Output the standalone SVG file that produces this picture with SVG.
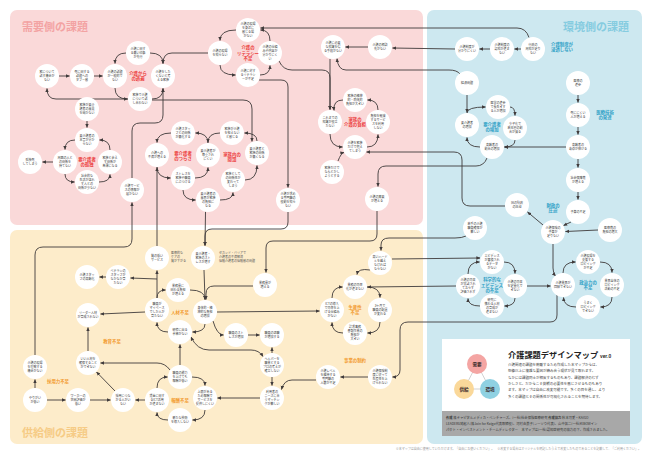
<svg xmlns="http://www.w3.org/2000/svg" width="650" height="454" viewBox="0 0 650 454">
<style>
text{font-family:"Noto Sans CJK JP","Noto Sans",sans-serif}
.nd circle{fill:#fff}
.nd text{font-size:3px;fill:#3a3a3a;text-anchor:middle}
.lbl{font-size:4.4px;font-weight:bold;text-anchor:middle}
.red{fill:#ec3c3c}.org{fill:#f29a2e}.blu{fill:#2ea0c6}
.ttl{font-size:11px;font-weight:bold}
.ann{font-size:3px;fill:#555}
#connectors path{fill:none;stroke:#403b3b;stroke-width:0.9;marker-end:url(#ah)}
#connectors path.bi{marker-start:url(#ahs)}
.leg{font-size:3.5px;fill:#444}
.band{font-size:3.3px;fill:#333}
.ci{font-size:4.6px;font-weight:bold;fill:#3a2a2a;text-anchor:middle}
</style>
<defs>
<marker id="ah" viewBox="0 0 6 6" refX="5.5" refY="3" markerWidth="4" markerHeight="4" markerUnits="userSpaceOnUse" orient="auto"><path d="M0,0.4 L6,3 L0,5.6 z" fill="#403b3b"/></marker>
<marker id="ahs" viewBox="0 0 6 6" refX="5.5" refY="3" markerWidth="4" markerHeight="4" markerUnits="userSpaceOnUse" orient="auto-start-reverse"><path d="M0,0.4 L6,3 L0,5.6 z" fill="#403b3b"/></marker>
</defs>
<rect width="650" height="454" fill="#fff"/>
<g id="panels">
<rect x="10" y="10" width="413" height="215" rx="7" fill="#fad9d9"/>
<rect x="10" y="230" width="413" height="214" rx="7" fill="#fdecca"/>
<rect x="427" y="10" width="215" height="434" rx="7" fill="#cde8f0"/>
<text class="ttl" x="22" y="31" fill="#f3a3a3">需要側の課題</text>
<text class="ttl" x="563" y="31" fill="#86cce0">環境側の課題</text>
<text class="ttl" x="22" y="437" fill="#f6cb85">供給側の課題</text>
</g>
<g id="connectors">
<path d="M59,76 L69.5,76"/>
<path d="M94,76 L102.5,76"/>
<path d="M126,53 Q115,53 115,63.5"/>
<path d="M150,53 Q163,53 163,63.5"/>
<path d="M208,53 L172,53 Q163,53 163,63.5"/>
<path d="M115,88 Q115,99 127.5,99"/>
<path d="M152,99 Q163,99 163,88.5"/>
<path d="M128,99 L56,99 Q47,99 47,88.5"/>
<path d="M152,100 L243,100 Q252,100 252,109 L252,141.5"/>
<path d="M132,178 L132,131 Q132,123 140,123 L155,123 Q163,123 163,115 L163,88.5"/>
<path d="M87,121 L87,127.5"/>
<path d="M75,140 Q65,140 65,149.5"/>
<path d="M65,174 Q65,182 74.5,182"/>
<path d="M99,182 Q110,182 110,174.5"/>
<path d="M110,150 Q110,140 99.5,140"/>
<path d="M53,162 L42.5,162"/>
<path d="M171,133 Q157,133 157,142.5"/>
<path d="M157,167 Q157,178 170.5,178"/>
<path d="M195,178 Q208,178 208,167.5"/>
<path d="M208,143 Q208,133 195.5,133"/>
<path d="M183,190 Q183,200 195.5,200"/>
<path d="M220,133 Q208,133 208,142.5"/>
<path d="M257,141 Q257,133 244.5,133"/>
<path d="M245,180 Q257,180 257,165.5"/>
<path d="M220,200 Q233,200 233,192.5"/>
<path d="M236,30 Q220,30 220,40.5"/>
<path d="M220,65 Q220,75 235.5,75"/>
<path d="M260,75 Q270,75 270,65.5"/>
<path d="M270,41 Q270,30 260.5,30"/>
<path d="M259,80 L281,80 Q288,80 288,87 L288,187.5"/>
<path d="M279,61 Q283,70 292,70 L322,70 Q330,70 330,78 L330,109.5"/>
<path d="M330,59 L330,109.5"/>
<path d="M460,74 Q457,70 449,70 L346,70 Q338,70 337,58.5"/>
<path d="M455,49 L392.5,48"/>
<path d="M368,47 L345.5,47"/>
<path d="M490,49 L479.5,49"/>
<path d="M521,49 L514.5,49"/>
<path d="M529,37.5 Q526,28 517,28 L260.5,28"/>
<path d="M343,100 Q333,100 334,110.5"/>
<path d="M330,134 Q330,147 342.5,147"/>
<path d="M367,147 Q378,147 378,134.5"/>
<path d="M378,110 Q378,100 367.5,100"/>
<path d="M338,161 Q341,153 344,152.5"/>
<path d="M505,206 L470,206 Q462,206 462,198 L462,160 Q462,152 454,152 L366.5,152"/>
<path d="M487,158 Q484,166 476,166 L386,166 Q378,166 378,174 L378,186.5"/>
<path d="M377,211 L377,234 Q377,241 370,241 L273,241 Q266,241 266,248 L266,272.5"/>
<path d="M288,212 L288,222 Q288,229 281,229 L212,229 Q205,229 205,236 L205,245.5"/>
<path d="M205.5,211.7 L205,245.5"/>
<path d="M157,246 L157,167.5"/>
<path d="M35,355 L35,255 Q35,247 43,247 L124,247 Q132,247 132,239 L132,202.5"/>
<path d="M157,298 L157,270.5"/>
<path d="M157,279 L130.5,278"/>
<path d="M106,277 L99.5,277"/>
<path d="M157,298 Q157,290 165.5,290"/>
<path d="M190,290 Q205,290 205,299.5"/>
<path d="M204,270 L205,299.5"/>
<path d="M253,286 L214,286 Q206,286 206,294 L206,299.5"/>
<path d="M205,324 Q205,332 192.5,332"/>
<path d="M168,332 Q157,332 157,322.5"/>
<path d="M145,312 L100.5,314"/>
<path d="M88,351 L88,327.5"/>
<path d="M170,370 Q165,363 157,363 L100.5,363"/>
<path d="M115,391 L96.5,372"/>
<path d="M35,388 L35,379.5"/>
<path d="M47,400 L65.5,400"/>
<path d="M90,400 L110.5,400"/>
<path d="M145,400 L135.5,400"/>
<path d="M192,377 Q205,377 205,385.5"/>
<path d="M205,410 Q205,420 192.5,420"/>
<path d="M168,420 Q157,420 157,412.5"/>
<path d="M157,388 Q157,377 167.5,377"/>
<path d="M180,365 L180,344.5"/>
<path d="M260,398 L217.5,398"/>
<path d="M316,380 L292,380 Q284,380 281.5,389.5"/>
<path d="M368,377 L340.5,377"/>
<path d="M557,295 L557,315 Q557,322 550,322 L408,322 Q400,322 400,330 L400,370 Q400,377 392.5,377"/>
<path d="M272,353 L272,347.5"/>
<path d="M272,377 L272,385.5"/>
<path d="M248,335 L259.5,335"/>
<path d="M213,321 Q217,335 223.5,335"/>
<path d="M217,312 L319.5,311"/>
<path class="bi" d="M191,337 Q197,350 209,350 L251,350 Q259,350 263,356.5"/>
<path d="M367,287 Q380,287 380,297.5"/>
<path d="M380,322 Q380,333 367.5,333"/>
<path d="M343,333 Q332,333 332,322.5"/>
<path d="M332,298 Q332,287 342.5,287"/>
<path d="M370,270 Q358,268 357,274.5"/>
<path d="M466,236 Q462,238 455,238 L389,238 Q381,238 381,245 L381,250.5"/>
<path d="M392,259 L480,258"/>
<path d="M456,286 L367.5,287"/>
<path d="M504,262 Q515,262 515,273.5"/>
<path d="M515,298 Q515,306 504.5,306"/>
<path d="M480,306 Q468,306 468,298.5"/>
<path d="M468,274 Q468,262 479.5,262"/>
<path d="M527,286 L550.5,286"/>
<path d="M563,273 Q563,262 575.5,262"/>
<path d="M600,262 Q612,262 612,272.5"/>
<path d="M612,297 Q612,307 600.5,307"/>
<path d="M576,307 Q564,307 563.5,297.5"/>
<path d="M553,244 L553,268 Q553,273 555.5,276"/>
<path d="M578,95 L578,102.5"/>
<path d="M578,127 L578,134.5"/>
<path d="M566,147 L504.5,147"/>
<path d="M578,159 L578,167.5"/>
<path d="M578,192 L578,199.5"/>
<path d="M571,222 L563.5,225.5"/>
<path d="M598,230 L565.5,231.5"/>
<path d="M543,225 L527.5,212"/>
<path d="M510,107 Q515,107 515,115.5"/>
<path d="M515,140 Q515,147 504.5,147"/>
<path d="M480,147 Q467,147 467,137.5"/>
<path d="M467,113 Q467,107 485.5,107"/>
<path d="M467,95 L467,112.5"/>
</g>
<g id="nodes">
<g id="p1" class="nd"><circle cx="47" cy="76" r="12"/><text x="47" y="73.1"><tspan x="47">家について</tspan><tspan x="47" dy="4">話す機会が</tspan><tspan x="47" dy="4">ない</tspan></text></g>
<g id="p2" class="nd"><circle cx="82" cy="76" r="12"/><text x="82" y="73.1"><tspan x="82">死に関する</tspan><tspan x="82" dy="4">話題への</tspan><tspan x="82" dy="4">タブー感</tspan></text></g>
<g id="p3" class="nd"><circle cx="115" cy="76" r="12"/><text x="115" y="73.1"><tspan x="115">介護の話題</tspan><tspan x="115" dy="4">が一般的で</tspan><tspan x="115" dy="4">ない</tspan></text></g>
<g id="p4" class="nd"><circle cx="138" cy="53" r="12"/><text x="138" y="50.1"><tspan x="138">介護に関す</tspan><tspan x="138" dy="4">る悪い印象</tspan><tspan x="138" dy="4">が先行</tspan></text></g>
<g id="p5" class="nd"><circle cx="163" cy="76" r="12"/><text x="163" y="73.1"><tspan x="163">介護をした</tspan><tspan x="163" dy="4">くないと考</tspan><tspan x="163" dy="4">える家族</tspan></text></g>
<g id="p6" class="nd"><circle cx="140" cy="99" r="12"/><text x="140" y="96.1"><tspan x="140">家族で介護</tspan><tspan x="140" dy="4">について話</tspan><tspan x="140" dy="4">し合わない</tspan></text></g>
<g id="p7" class="nd"><circle cx="87" cy="109" r="12"/><text x="87" y="106.1"><tspan x="87">家族が要介</tspan><tspan x="87" dy="4">護者の意見</tspan><tspan x="87" dy="4">を聞かない</tspan></text></g>
<g id="p8" class="nd"><circle cx="87" cy="140" r="12"/><text x="87" y="137.1"><tspan x="87">要介護者の</tspan><tspan x="87" dy="4">本音が分か</tspan><tspan x="87" dy="4">らない</tspan></text></g>
<g id="p9" class="nd"><circle cx="30" cy="162" r="12"/><text x="30" y="161.1"><tspan x="30">孤独死</tspan><tspan x="30" dy="4">してしまう</tspan></text></g>
<g id="p10" class="nd"><circle cx="65" cy="162" r="12"/><text x="65" y="159.1"><tspan x="65">周囲の人と</tspan><tspan x="65" dy="4">の関係を</tspan><tspan x="65" dy="4">持てない</tspan></text></g>
<g id="p11" class="nd"><circle cx="110" cy="162" r="12"/><text x="110" y="159.1"><tspan x="110">家族と会え</tspan><tspan x="110" dy="4">ず関係が</tspan><tspan x="110" dy="4">希薄になる</tspan></text></g>
<g id="p12" class="nd"><circle cx="87" cy="182" r="12"/><text x="87" y="177.1"><tspan x="87">社会的な</tspan><tspan x="87" dy="4">生活が送れ</tspan><tspan x="87" dy="4">ず人との</tspan><tspan x="87" dy="4">関係が少ない</tspan></text></g>
<g id="p13" class="nd"><circle cx="132" cy="190" r="12"/><text x="132" y="187.1"><tspan x="132">介護サービ</tspan><tspan x="132" dy="4">スの情報が</tspan><tspan x="132" dy="4">届かない</tspan></text></g>
<g id="p14" class="nd"><circle cx="183" cy="133" r="12"/><text x="183" y="130.1"><tspan x="183">介護スタッ</tspan><tspan x="183" dy="4">フとの関係</tspan><tspan x="183" dy="4">が悪化する</tspan></text></g>
<g id="p15" class="nd"><circle cx="157" cy="155" r="12"/><text x="157" y="154.1"><tspan x="157">介護への</tspan><tspan x="157" dy="4">不満が増える</tspan></text></g>
<g id="p16" class="nd"><circle cx="208" cy="155" r="12"/><text x="208" y="152.1"><tspan x="208">要介護者が</tspan><tspan x="208" dy="4">尊重され</tspan><tspan x="208" dy="4">にくい</tspan></text></g>
<g id="p17" class="nd"><circle cx="183" cy="178" r="12"/><text x="183" y="175.1"><tspan x="183">ストレスを</tspan><tspan x="183" dy="4">家族や職員</tspan><tspan x="183" dy="4">にぶつける</tspan></text></g>
<g id="p18" class="nd"><circle cx="208" cy="200" r="12"/><text x="208" y="195.1"><tspan x="208">要介護者の</tspan><tspan x="208" dy="4">意思が家族</tspan><tspan x="208" dy="4">の負担に</tspan><tspan x="208" dy="4">なる</tspan></text></g>
<g id="f1" class="nd"><circle cx="232" cy="133" r="12"/><text x="232" y="130.1"><tspan x="232">家族が介護</tspan><tspan x="232" dy="4">を担えない</tspan><tspan x="232" dy="4">と感じる</tspan></text></g>
<g id="f2" class="nd"><circle cx="257" cy="153" r="12"/><text x="257" y="150.1"><tspan x="257">要介護者と</tspan><tspan x="257" dy="4">家族の関係</tspan><tspan x="257" dy="4">が悪くなる</tspan></text></g>
<g id="f3" class="nd"><circle cx="233" cy="180" r="12"/><text x="233" y="175.1"><tspan x="233">家族として</tspan><tspan x="233" dy="4">の関係性が</tspan><tspan x="233" dy="4">変わって</tspan><tspan x="233" dy="4">しまう</tspan></text></g>
<g id="l1" class="nd"><circle cx="248" cy="30" r="12"/><text x="248" y="25.1"><tspan x="248">介護の現場</tspan><tspan x="248" dy="4">を身近に</tspan><tspan x="248" dy="4">感じる場</tspan><tspan x="248" dy="4">がない</tspan></text></g>
<g id="l2" class="nd"><circle cx="220" cy="53" r="12"/><text x="220" y="52.1"><tspan x="220">介護の現場</tspan><tspan x="220" dy="4">を知らない</tspan></text></g>
<g id="l3" class="nd"><circle cx="270" cy="53" r="12"/><text x="270" y="48.1"><tspan x="270">介護の仕組</tspan><tspan x="270" dy="4">みや内容が</tspan><tspan x="270" dy="4">分かりにく</tspan><tspan x="270" dy="4">い</tspan></text></g>
<g id="l4" class="nd"><circle cx="248" cy="75" r="12"/><text x="248" y="72.1"><tspan x="248">介護に対す</tspan><tspan x="248" dy="4">るリテラシ</tspan><tspan x="248" dy="4">ーが不足</tspan></text></g>
<g id="k1" class="nd"><circle cx="288" cy="200" r="12"/><text x="288" y="195.1"><tspan x="288">介護が求め</tspan><tspan x="288" dy="4">る専門職の</tspan><tspan x="288" dy="4">役割を知ら</tspan><tspan x="288" dy="4">ない</tspan></text></g>
<g id="t1" class="nd"><circle cx="333" cy="47" r="12"/><text x="333" y="44.1"><tspan x="333">介護に必要</tspan><tspan x="333" dy="4">な知識を得</tspan><tspan x="333" dy="4">る手段がない</tspan></text></g>
<g id="t2" class="nd"><circle cx="380" cy="47" r="12"/><text x="380" y="46.1"><tspan x="380">介護の相談</tspan><tspan x="380" dy="4">先がない</tspan></text></g>
<g id="m1" class="nd"><circle cx="355" cy="100" r="12"/><text x="355" y="97.1"><tspan x="355">家族の精神</tspan><tspan x="355" dy="4">的・肉体的</tspan><tspan x="355" dy="4">負担が大きい</tspan></text></g>
<g id="m2" class="nd"><circle cx="330" cy="122" r="12"/><text x="330" y="119.1"><tspan x="330">これまでの</tspan><tspan x="330" dy="4">知識が役立</tspan><tspan x="330" dy="4">たない</tspan></text></g>
<g id="m3" class="nd"><circle cx="378" cy="122" r="12"/><text x="378" y="117.1"><tspan x="378">負担を軽減</tspan><tspan x="378" dy="4">するサービ</tspan><tspan x="378" dy="4">スを利用</tspan><tspan x="378" dy="4">しない</tspan></text></g>
<g id="m4" class="nd"><circle cx="355" cy="147" r="12"/><text x="355" y="144.1"><tspan x="355">介護を家族</tspan><tspan x="355" dy="4">だけで抱え</tspan><tspan x="355" dy="4">てしまう</tspan></text></g>
<g id="m5" class="nd"><circle cx="332" cy="172" r="12"/><text x="332" y="169.1"><tspan x="332">家族だけで</tspan><tspan x="332" dy="4">なんとかし</tspan><tspan x="332" dy="4">ようとする</tspan></text></g>
<g id="d0" class="nd"><circle cx="377" cy="199" r="12"/><text x="377" y="198.1"><tspan x="377">介護の需要</tspan><tspan x="377" dy="4">が増える</tspan></text></g>
<g id="b1" class="nd"><circle cx="467" cy="49" r="12"/><text x="467" y="48.1"><tspan x="467">介護制度が</tspan><tspan x="467" dy="4">分かりにくい</tspan></text></g>
<g id="b2" class="nd"><circle cx="502" cy="49" r="12"/><text x="502" y="46.1"><tspan x="502">介護制度の</tspan><tspan x="502" dy="4">認知が進ま</tspan><tspan x="502" dy="4">ない</tspan></text></g>
<g id="b3" class="nd"><circle cx="533" cy="49" r="12"/><text x="533" y="46.1"><tspan x="533">行政の</tspan><tspan x="533" dy="4">周知が足り</tspan><tspan x="533" dy="4">ない</tspan></text></g>
<g id="b4" class="nd"><circle cx="467" cy="83" r="12"/><text x="467" y="84.1">経済問題</text></g>
<g id="y1" class="nd"><circle cx="498" cy="107" r="12"/><text x="498" y="104.1"><tspan x="498">医学の進歩</tspan><tspan x="498" dy="4">で長生きす</tspan><tspan x="498" dy="4">る人が増加</tspan></text></g>
<g id="y2" class="nd"><circle cx="515" cy="128" r="12"/><text x="515" y="125.1"><tspan x="515">少子化で</tspan><tspan x="515" dy="4">若年層の割</tspan><tspan x="515" dy="4">合が減る</tspan></text></g>
<g id="y3" class="nd"><circle cx="492" cy="147" r="12"/><text x="492" y="146.1"><tspan x="492">高齢者の</tspan><tspan x="492" dy="4">割合の増加</tspan></text></g>
<g id="y4" class="nd"><circle cx="467" cy="125" r="12"/><text x="467" y="124.1"><tspan x="467">要介護者</tspan><tspan x="467" dy="4">の増加</tspan></text></g>
<g id="d1" class="nd"><circle cx="578" cy="83" r="12"/><text x="578" y="82.1"><tspan x="578">医療の</tspan><tspan x="578" dy="4">進歩</tspan></text></g>
<g id="d2" class="nd"><circle cx="578" cy="115" r="12"/><text x="578" y="114.1"><tspan x="578">死ににくい</tspan><tspan x="578" dy="4">人が増える</tspan></text></g>
<g id="d3" class="nd"><circle cx="578" cy="147" r="12"/><text x="578" y="146.1"><tspan x="578">高齢者の</tspan><tspan x="578" dy="4">寿命が伸びる</tspan></text></g>
<g id="g0" class="nd"><circle cx="578" cy="180" r="12"/><text x="578" y="179.1"><tspan x="578">社会保障費</tspan><tspan x="578" dy="4">が増える</tspan></text></g>
<g id="g5" class="nd"><circle cx="578" cy="212" r="12"/><text x="578" y="213.1">予算の不足</text></g>
<g id="g1" class="nd"><circle cx="553" cy="232" r="12"/><text x="553" y="229.1"><tspan x="553">介護保険の</tspan><tspan x="553" dy="4">予算が</tspan><tspan x="553" dy="4">足りない</tspan></text></g>
<g id="g2" class="nd"><circle cx="610" cy="230" r="12"/><text x="610" y="229.1"><tspan x="610">医療費の</tspan><tspan x="610" dy="4">負担の増大</tspan></text></g>
<g id="g3" class="nd"><circle cx="517" cy="205" r="12"/><text x="517" y="204.1"><tspan x="517">国の財政</tspan><tspan x="517" dy="4">の圧迫</tspan></text></g>
<g id="g4" class="nd"><circle cx="475" cy="228" r="12"/><text x="475" y="225.1"><tspan x="475">若手の介護</tspan><tspan x="475" dy="4">職員確保が</tspan><tspan x="475" dy="4">難しい</tspan></text></g>
<g id="e1" class="nd"><circle cx="492" cy="262" r="12"/><text x="492" y="257.1"><tspan x="492">エビデンス</tspan><tspan x="492" dy="4">が蓄積され</tspan><tspan x="492" dy="4">るデータ</tspan><tspan x="492" dy="4">がない</tspan></text></g>
<g id="e2" class="nd"><circle cx="468" cy="286" r="12"/><text x="468" y="281.1"><tspan x="468">介護の効果</tspan><tspan x="468" dy="4">が実証され</tspan><tspan x="468" dy="4">ておらず</tspan><tspan x="468" dy="4">評価されず</tspan></text></g>
<g id="e3" class="nd"><circle cx="515" cy="286" r="12"/><text x="515" y="283.1"><tspan x="515">介護の効果</tspan><tspan x="515" dy="4">を定量化で</tspan><tspan x="515" dy="4">きない</tspan></text></g>
<g id="e4" class="nd"><circle cx="492" cy="306" r="12"/><text x="492" y="301.1"><tspan x="492">研究に</tspan><tspan x="492" dy="4">携わる人材</tspan><tspan x="492" dy="4">の育成が</tspan><tspan x="492" dy="4">進まない</tspan></text></g>
<g id="h1" class="nd"><circle cx="563" cy="285" r="12"/><text x="563" y="284.1"><tspan x="563">介護業界が</tspan><tspan x="563" dy="4">団結できない</tspan></text></g>
<g id="h2" class="nd"><circle cx="588" cy="262" r="12"/><text x="588" y="257.1"><tspan x="588">介護現場を</tspan><tspan x="588" dy="4">支援する</tspan><tspan x="588" dy="4">ロビイング</tspan><tspan x="588" dy="4">が不足</tspan></text></g>
<g id="h3" class="nd"><circle cx="612" cy="285" r="12"/><text x="612" y="282.1"><tspan x="612">業界全体の</tspan><tspan x="612" dy="4">ロビイング</tspan><tspan x="612" dy="4">活動の不足</tspan></text></g>
<g id="h4" class="nd"><circle cx="588" cy="307" r="12"/><text x="588" y="304.1"><tspan x="588">うまく</tspan><tspan x="588" dy="4">ロビイング</tspan><tspan x="588" dy="4">できない</tspan></text></g>
<g id="o1" class="nd"><circle cx="157" cy="258" r="12"/><text x="157" y="257.1"><tspan x="157">質の低い</tspan><tspan x="157" dy="4">サービス</tspan></text></g>
<g id="o2" class="nd"><circle cx="203" cy="258" r="12"/><text x="203" y="255.1"><tspan x="203">要介護者・</tspan><tspan x="203" dy="4">家族のスト</tspan><tspan x="203" dy="4">レスが増す</tspan></text></g>
<g id="o3" class="nd"><circle cx="265" cy="285" r="12"/><text x="265" y="284.1"><tspan x="265">業務量が</tspan><tspan x="265" dy="4">増える</tspan></text></g>
<g id="o4" class="nd"><circle cx="118" cy="277" r="12"/><text x="118" y="272.1"><tspan x="118">ベテランの</tspan><tspan x="118" dy="4">スタッフが</tspan><tspan x="118" dy="4">なかなか育</tspan><tspan x="118" dy="4">たない</tspan></text></g>
<g id="o31" class="nd"><circle cx="87" cy="277" r="12"/><text x="87" y="276.1"><tspan x="87">介護スタッ</tspan><tspan x="87" dy="4">フの高齢化</tspan></text></g>
<g id="o6" class="nd"><circle cx="178" cy="290" r="12"/><text x="178" y="287.1"><tspan x="178">業務量に</tspan><tspan x="178" dy="4">関わる負担</tspan><tspan x="178" dy="4">が増える</tspan></text></g>
<g id="o5" class="nd"><circle cx="157" cy="310" r="12"/><text x="157" y="305.1"><tspan x="157">職員が</tspan><tspan x="157" dy="4">マイペース</tspan><tspan x="157" dy="4">でしか人が</tspan><tspan x="157" dy="4">育たない</tspan></text></g>
<g id="o7" class="nd"><circle cx="205" cy="312" r="12"/><text x="205" y="309.1"><tspan x="205">身体的・精</tspan><tspan x="205" dy="4">神的な負担</tspan><tspan x="205" dy="4">の増加</tspan></text></g>
<g id="o8" class="nd"><circle cx="180" cy="332" r="12"/><text x="180" y="331.1"><tspan x="180">研修に出る</tspan><tspan x="180" dy="4">余裕がない</tspan></text></g>
<g id="o9" class="nd"><circle cx="236" cy="335" r="12"/><text x="236" y="334.1"><tspan x="236">職員のスト</tspan><tspan x="236" dy="4">レスが増加</tspan></text></g>
<g id="o10" class="nd"><circle cx="272" cy="335" r="12"/><text x="272" y="334.1"><tspan x="272">職員の退職</tspan><tspan x="272" dy="4">が増加する</tspan></text></g>
<g id="o11" class="nd"><circle cx="272" cy="365" r="12"/><text x="272" y="360.1"><tspan x="272">ヘルパーを</tspan><tspan x="272" dy="4">職業とする</tspan><tspan x="272" dy="4">プロの考えが</tspan><tspan x="272" dy="4">確立しない</tspan></text></g>
<g id="o12" class="nd"><circle cx="272" cy="398" r="12"/><text x="272" y="393.1"><tspan x="272">利用者の</tspan><tspan x="272" dy="4">ニーズに合</tspan><tspan x="272" dy="4">うマッチン</tspan><tspan x="272" dy="4">グが難しい</tspan></text></g>
<g id="o13" class="nd"><circle cx="328" cy="377" r="12"/><text x="328" y="372.1"><tspan x="328">介護レベル</tspan><tspan x="328" dy="4">を維持する</tspan><tspan x="328" dy="4">専門職の</tspan><tspan x="328" dy="4">人数が不足</tspan></text></g>
<g id="o14" class="nd"><circle cx="380" cy="377" r="12"/><text x="380" y="372.1"><tspan x="380">介護保険制</tspan><tspan x="380" dy="4">度に従って</tspan><tspan x="380" dy="4">生産性を上</tspan><tspan x="380" dy="4">げられない</tspan></text></g>
<g id="o15" class="nd"><circle cx="332" cy="310" r="12"/><text x="332" y="305.1"><tspan x="332">ICTの導入</tspan><tspan x="332" dy="4">で効率を上</tspan><tspan x="332" dy="4">げる仕組み</tspan><tspan x="332" dy="4">がない</tspan></text></g>
<g id="o16" class="nd"><circle cx="380" cy="310" r="12"/><text x="380" y="307.1"><tspan x="380">3ヶ月で</tspan><tspan x="380" dy="4">職員の配置</tspan><tspan x="380" dy="4">が変わる</tspan></text></g>
<g id="o17" class="nd"><circle cx="355" cy="333" r="12"/><text x="355" y="328.1"><tspan x="355">請求事務</tspan><tspan x="355" dy="4">書類作業の</tspan><tspan x="355" dy="4">負担が</tspan><tspan x="355" dy="4">大きい</tspan></text></g>
<g id="o18" class="nd"><circle cx="380" cy="263" r="12"/><text x="380" y="258.1"><tspan x="380">高いハード</tspan><tspan x="380" dy="4">ルを越え</tspan><tspan x="380" dy="4">なければ</tspan><tspan x="380" dy="4">ならない</tspan></text></g>
<g id="o19" class="nd"><circle cx="355" cy="287" r="12"/><text x="355" y="286.1"><tspan x="355">業務の効率</tspan><tspan x="355" dy="4">化が進まない</tspan></text></g>
<g id="o22" class="nd"><circle cx="88" cy="315" r="12"/><text x="88" y="314.1"><tspan x="88">リーダー人材</tspan><tspan x="88" dy="4">が育成されない</tspan></text></g>
<g id="o23" class="nd"><circle cx="88" cy="363" r="12"/><text x="88" y="360.1"><tspan x="88">いい人材を</tspan><tspan x="88" dy="4">確保すること</tspan><tspan x="88" dy="4">ができない</tspan></text></g>
<g id="o24" class="nd"><circle cx="35" cy="367" r="12"/><text x="35" y="364.1"><tspan x="35">介護の現場</tspan><tspan x="35" dy="4">を理解する</tspan><tspan x="35" dy="4">機会がない</tspan></text></g>
<g id="o25" class="nd"><circle cx="35" cy="400" r="12"/><text x="35" y="399.1"><tspan x="35">やりがい</tspan><tspan x="35" dy="4">が低い</tspan></text></g>
<g id="o26" class="nd"><circle cx="78" cy="400" r="12"/><text x="78" y="397.1"><tspan x="78">ワーカーの</tspan><tspan x="78" dy="4">世間評価が</tspan><tspan x="78" dy="4">低い</tspan></text></g>
<g id="o27" class="nd"><circle cx="123" cy="400" r="12"/><text x="123" y="397.1"><tspan x="123">採用につな</tspan><tspan x="123" dy="4">がる人がい</tspan><tspan x="123" dy="4">ない</tspan></text></g>
<g id="o28" class="nd"><circle cx="157" cy="400" r="12"/><text x="157" y="397.1"><tspan x="157">賃金に関す</tspan><tspan x="157" dy="4">るICT活用</tspan><tspan x="157" dy="4">が進まない</tspan></text></g>
<g id="o30" class="nd"><circle cx="180" cy="377" r="12"/><text x="180" y="374.1"><tspan x="180">職員の能力</tspan><tspan x="180" dy="4">を上げても</tspan><tspan x="180" dy="4">報酬が低い</tspan></text></g>
<g id="o20" class="nd"><circle cx="205" cy="398" r="12"/><text x="205" y="393.1"><tspan x="205">上限がある</tspan><tspan x="205" dy="4">ため報酬で</tspan><tspan x="205" dy="4">サービスを</tspan><tspan x="205" dy="4">提供しにくい</tspan></text></g>
<g id="o29" class="nd"><circle cx="180" cy="420" r="12"/><text x="180" y="419.1"><tspan x="180">新たな技術</tspan><tspan x="180" dy="4">を導入しない</tspan></text></g>
</g>
<g id="labels">
<text class="lbl red" x="138" y="75"><tspan x="138">介護から</tspan><tspan x="138" dy="5.2">の逃避</tspan></text>
<text class="lbl red" x="87" y="161"><tspan x="87">要介護者</tspan><tspan x="87" dy="5.2">の孤独</tspan></text>
<text class="lbl red" x="183" y="155"><tspan x="183">要介護者</tspan><tspan x="183" dy="5.2">のつらさ</tspan></text>
<text class="lbl red" x="232" y="156"><tspan x="232">家族内の</tspan><tspan x="232" dy="5.2">問題</tspan></text>
<text class="lbl red" x="248" y="49.4"><tspan x="248">介護の</tspan><tspan x="248" dy="5.2">リテラシー</tspan><tspan x="248" dy="5.2">不足</tspan></text>
<text class="lbl red" x="355" y="121"><tspan x="355">家族の</tspan><tspan x="355" dy="5.2">介護の負担</tspan></text>
<text class="lbl blu" x="562" y="46"><tspan x="562">介護制度が</tspan><tspan x="562" dy="5.2">浸透しない</tspan></text>
<text class="lbl blu" x="492" y="126"><tspan x="492">要介護者</tspan><tspan x="492" dy="5.2">の増加</tspan></text>
<text class="lbl blu" x="605" y="114"><tspan x="605">医療技術</tspan><tspan x="605" dy="5.2">の発達</tspan></text>
<text class="lbl blu" x="553" y="207"><tspan x="553">財政の</tspan><tspan x="553" dy="5.2">圧迫</tspan></text>
<text class="lbl blu" x="492" y="281.4"><tspan x="492">科学的な</tspan><tspan x="492" dy="5.2">エビデンス</tspan><tspan x="492" dy="5.2">の不足</tspan></text>
<text class="lbl blu" x="588" y="284"><tspan x="588">政治力の</tspan><tspan x="588" dy="5.2">不足</tspan></text>
<text class="lbl org" x="180" y="313.5">人材不足</text>
<text class="lbl org" x="112" y="342.5">教育不足</text>
<text class="lbl org" x="58" y="382.5">採用力不足</text>
<text class="lbl org" x="180" y="402">報酬不足</text>
<text class="lbl org" x="355" y="309"><tspan x="355">生産性</tspan><tspan x="355" dy="5.2">不足</tspan></text>
<text class="lbl org" x="355" y="361.5">事業の制約</text>
<text class="ann" x="171" y="254"><tspan x="171">医療的な</tspan><tspan x="171" dy="4">ケアの</tspan><tspan x="171" dy="4">質が下がる</tspan></text>
<text class="ann" x="219" y="254"><tspan x="219">セカンド・バリアで</tspan><tspan x="219" dy="4">介護者の不満解消</tspan><tspan x="219" dy="4">信頼介護者の信頼感の問題</tspan></text>
</g>
<g id="legend">
<rect x="442" y="339" width="188" height="72" fill="#fff"/>
<rect x="442" y="411" width="188" height="25" fill="#a8a8a8"/>
<path d="M477,364 L464,389 L490,389 Z" fill="none" stroke="#bdbdbd" stroke-width="0.7"/>
<circle cx="477" cy="364" r="10" fill="#f4a5a3"/>
<circle cx="464" cy="389" r="10" fill="#fad89a"/>
<circle cx="490" cy="389" r="10" fill="#8fd1e2"/>
<text class="ci" x="477" y="365.6">需要</text>
<text class="ci" x="464" y="390.6">供給</text>
<text class="ci" x="490" y="390.6">環境</text>
<text x="508" y="358" font-size="8.2" font-weight="bold" fill="#222">介護課題デザインマップ<tspan font-size="4.6" dx="2">ver.0</tspan></text>
<text class="leg" x="508" y="366"><tspan x="508">介護関連の課題を俯瞰するため作成した本マップからは、</tspan><tspan x="508" dy="6.3">想像以上に複雑な要因が絡み合う現状が見て取れます。</tspan><tspan x="508" dy="6.3">なかには課題同士が相反するものもあり、課題解決のむず</tspan><tspan x="508" dy="6.3">かしさと、だからこそ挑戦の必要性を感じさせるものもあり</tspan><tspan x="508" dy="6.3">ます。本マップは自由に改変可能です。多くの目を通し、より</tspan><tspan x="508" dy="6.3">多くの課題とその関係性が可視化されることを期待します。</tspan></text>
<text class="band" x="446" y="418.5"><tspan x="446"><tspan font-weight="bold">作成</tspan> 株キャピタルメディカ・ベンチャーズ、(一社)社会保険医療研究 <tspan font-weight="bold">作成協力</tspan> 秋本可愛・KAIGO</tspan><tspan x="446" dy="6.3">LEADERS発起人(株Join for Kaigo代表取締役)、河村由美子(シーソウ代表)、山中拓二(一社)KIBOWイン</tspan><tspan x="446" dy="6.3">パクト・インベストメント・チームディレクター　本マップは(一社)認知症研究の協力の下、作成されました。</tspan></text>
</g>
<text x="641" y="450" font-size="3" fill="#9a9a9a" text-anchor="end">※本マップは自由に使用していただけます。「自由にお使いください」。　※改変する場合はオリジナルを明記したうえで改変したものであることを記載して、「ご利用ください」。</text>
</svg>
